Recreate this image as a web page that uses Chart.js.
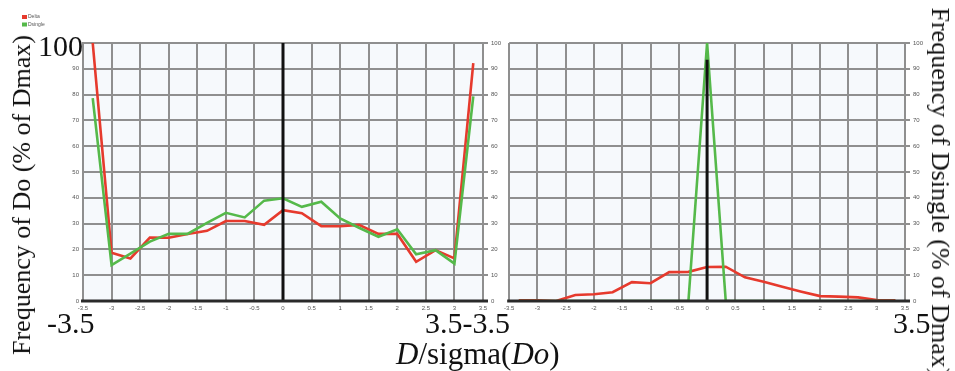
<!DOCTYPE html>
<html>
<head>
<meta charset="utf-8">
<script src="https://cdn.jsdelivr.net/npm/chart.js@4.4.1/dist/chart.umd.min.js"></script>
<style>
  body { margin: 0; background: #fff; width: 955px; height: 371px; overflow: hidden; position: relative; }
  canvas { position: absolute; top: 0; }
  #left { left: 0; }
  #right { left: 500px; }
  .big { position: absolute; font-family: "Liberation Serif", serif; font-size: 30px; line-height: 1; color: #111; white-space: nowrap; }
  .title { position: absolute; font-family: "Liberation Serif", serif; font-size: 26px; line-height: 1; color: #111; white-space: nowrap; }
</style>
</head>
<body>
<canvas id="left" width="504" height="320"></canvas>
<canvas id="right" width="455" height="320"></canvas>

<div class="big" style="left:38px; top:31px;">100</div>
<div class="big" style="left:47px; top:308px;">-3.5</div>
<div class="big" style="left:425px; top:308px;">3.5-3.5</div>
<div class="big" style="left:893px; top:308px;">3.5</div>
<div class="big" style="left:396px; top:338px; font-size:31px;"><i>D</i>/sigma(<i>Do</i>)</div>
<div class="title" style="left:22px; top:195px; transform:translate(-50%,-50%) rotate(-90deg);">Frequency of Do (% of Dmax)</div>
<div class="title" style="left:940px; top:192px; transform:translate(-50%,-50%) rotate(90deg);">Frequency of Dsingle (% of Dmax)</div>

<script>
// bin centres along D/sigma(Do)
const bins = [-3.33, -3, -2.67, -2.33, -2, -1.67, -1.33, -1, -0.67, -0.33, 0,
              0.33, 0.67, 1, 1.33, 1.67, 2, 2.33, 2.67, 3, 3.33];

// frequency of Do, % of Dmax
const deltaLeft   = [100, 18.7, 16.5, 24.6, 24.5, 26, 27.2, 31, 31, 29.5, 35.2,
                     34, 29, 29, 29.5, 26, 26, 15.2, 19.7, 16.5, 92.2];
const dsingleLeft = [78.6, 13.9, 18.4, 23, 26, 26, 30.3, 34.2, 32.4, 38.9, 39.8,
                     36.5, 38.5, 32, 28.4, 24.9, 27.8, 18.1, 19.7, 14.5, 79.3];

// frequency of Dsingle, % of Dmax
const deltaRight   = [0.3, 0.3, 0, 2.3, 2.6, 3.4, 7.3, 6.9, 11.2, 11.3, 13.2,
                      13.3, 9.2, 7.5, 5.5, 3.6, 1.9, 1.7, 1.4, 0.4, 0.3];
const dsingleRight = [0, 0, 0, 0, 0, 0, 0, 0, 0, 0, 100,
                      0, 0, 0, 0, 0, 0, 0, 0, 0, 0];

// black marker at D = 0
const zeroTopLeft = 100;
const zeroTopRight = 93.5;

const seriesNames = ['Delta', 'Dsingle'];

const RED = '#e63a2d';
const GREEN = '#55b94a';
const GRID = '#8f8f8f';
const AXIS = '#2a2a2a';
const tickFont = { family: 'Liberation Sans', size: 6 };

const pts = ys => bins.map((x, i) => ({ x: x, y: ys[i] }));

// light plot background
const plotBg = {
  id: 'plotBg',
  beforeDraw(chart) {
    const { ctx, chartArea: a } = chart;
    ctx.save();
    ctx.fillStyle = '#f6f9fc';
    ctx.fillRect(a.left, a.top, a.right - a.left, a.bottom - a.top);
    ctx.restore();
  }
};

// thick dark x axis line over the data
const baseline = {
  id: 'baseline',
  afterDatasetsDraw(chart) {
    const { ctx, chartArea: a } = chart;
    const y = chart.scales.y.getPixelForValue(0);
    ctx.save();
    ctx.strokeStyle = AXIS;
    ctx.lineWidth = 3;
    ctx.beginPath();
    ctx.moveTo(a.left - 2, y);
    ctx.lineTo(a.right + 5, y);
    ctx.stroke();
    ctx.restore();
  }
};

// tiny legend in the top left corner
const cornerLegend = {
  id: 'cornerLegend',
  afterDraw(chart) {
    const ctx = chart.ctx;
    ctx.save();
    ctx.font = '5px "Liberation Sans"';
    ctx.textBaseline = 'middle';
    seriesNames.forEach((name, i) => {
      const ds = chart.data.datasets.find(d => d.label === name);
      const y = 17 + i * 7.5;
      ctx.fillStyle = ds.borderColor;
      ctx.fillRect(22, y - 2, 5, 4);
      ctx.fillStyle = '#555';
      ctx.fillText(name, 28, y);
    });
    ctx.restore();
  }
};

function datasets(delta, dsingle, zeroTop) {
  return [
    { label: 'zero', data: [{ x: 0, y: 0 }, { x: 0, y: zeroTop }], borderColor: '#111', borderWidth: 3, order: 0 },
    { label: 'Dsingle', data: pts(dsingle), borderColor: GREEN, order: 1 },
    { label: 'Delta', data: pts(delta), borderColor: RED, order: 2 }
  ];
}

const xScale = {
  type: 'linear', min: -3.5, max: 3.5,
  ticks: { stepSize: 0.5, autoSkip: false, maxRotation: 0, font: tickFont, color: '#555', padding: 4,
           callback: v => String(Math.round(v * 10) / 10) },
  grid: { color: GRID, lineWidth: 2, drawTicks: false },
  border: { display: false },
  afterFit: s => { s.height = 19; }
};

const common = {
  responsive: false,
  animation: false,
  elements: { line: { borderWidth: 2.6, tension: 0 }, point: { radius: 0 } },
  plugins: { legend: { display: false }, tooltip: { enabled: false } }
};

new Chart(document.getElementById('left'), {
  type: 'line',
  data: { datasets: datasets(deltaLeft, dsingleLeft, zeroTopLeft) },
  options: Object.assign({}, common, {
    layout: { padding: { top: 43 } },
    scales: {
      x: xScale,
      y: {
        position: 'left', min: 0, max: 100,
        ticks: { stepSize: 10, font: tickFont, color: '#555', padding: 4, callback: v => v === 100 ? '' : v },
        grid: { color: GRID, lineWidth: 2, drawTicks: false },
        border: { color: GRID, width: 2 },
        afterFit: s => { s.width = 83; }
      },
      y2: {
        position: 'right', min: 0, max: 100,
        ticks: { stepSize: 10, font: tickFont, color: '#555', padding: 3 },
        grid: { drawOnChartArea: false, color: GRID, lineWidth: 2, tickLength: 5 },
        border: { display: false },
        afterFit: s => { s.width = 21; }
      }
    }
  }),
  plugins: [plotBg, baseline, cornerLegend]
});

new Chart(document.getElementById('right'), {
  type: 'line',
  data: { datasets: datasets(deltaRight, dsingleRight, zeroTopRight) },
  options: Object.assign({}, common, {
    layout: { padding: { top: 43, left: 5 } },
    scales: {
      x: xScale,
      y: {
        position: 'right', min: 0, max: 100,
        ticks: { stepSize: 10, font: tickFont, color: '#555', padding: 3 },
        grid: { color: GRID, lineWidth: 2, tickLength: 5 },
        border: { color: GRID, width: 2 },
        afterFit: s => { s.width = 50; }
      }
    }
  }),
  plugins: [plotBg, baseline]
});
</script>
</body>
</html>
